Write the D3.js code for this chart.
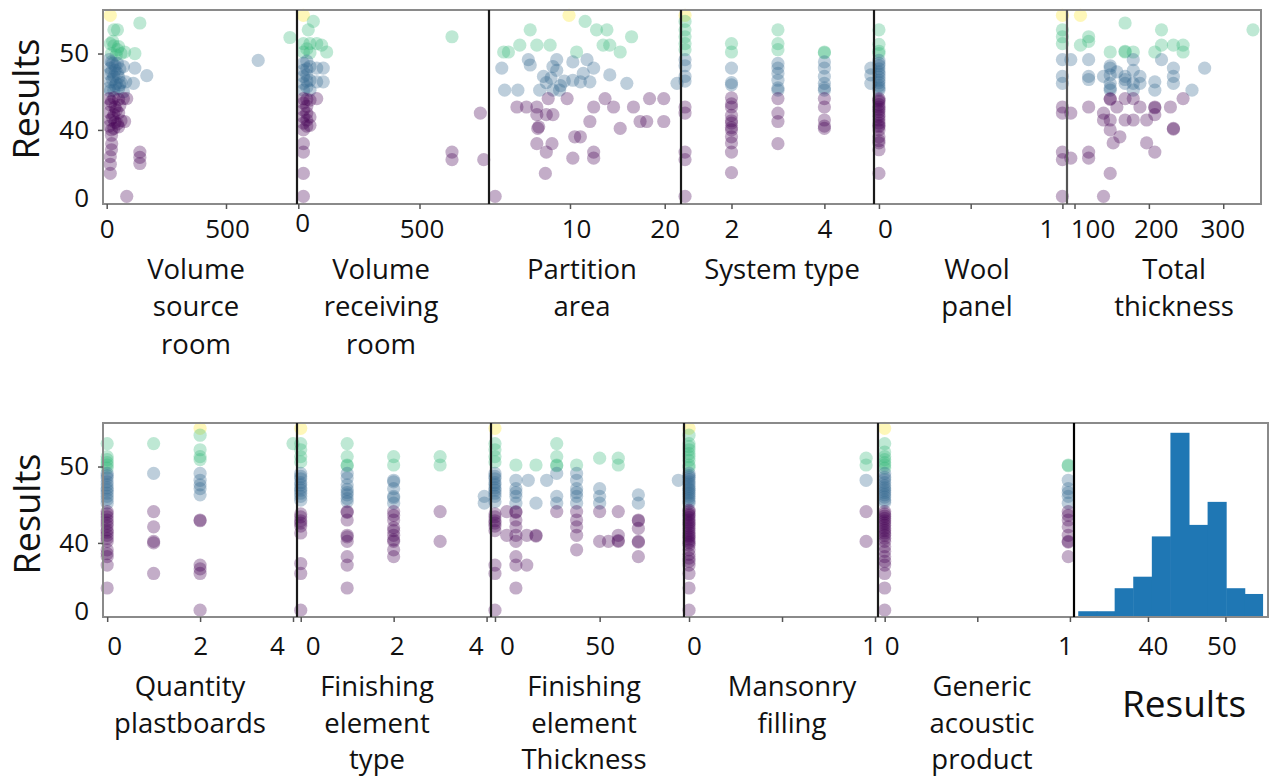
<!DOCTYPE html>
<html>
<head>
<meta charset="utf-8">
<script src="https://cdn.jsdelivr.net/npm/d3@7"></script>
<style>
  body { margin: 0; background: #fff; }
  svg { display: block; }
</style>
</head>
<body>
<div id="chart"></div>
<script>
// Results (dB) against each feature. Scatter panels: [feature, result];
// column panels: [feature, [results...]]
const volumeSource = [
  [15, 55.0], [30, 53.1], [45, 53.1], [139, 54.0], [15, 51.3], [30, 51.0], [45, 50.5], [60, 50.0],
  [75, 50.2], [20, 50.0], [40, 49.8], [118, 50.0], [768, 52.1], [25, 51.6], [50, 50.9],
  [10, 49.2], [25, 48.7], [45, 48.7], [15, 48.1], [35, 47.8], [55, 48.0], [70, 48.3], [10, 47.3],
  [30, 47.0], [50, 46.9], [15, 46.3], [40, 46.1], [60, 46.2], [80, 46.3], [10, 45.5], [30, 45.2],
  [50, 45.4], [70, 45.0], [118, 48.1], [168, 47.1], [112, 46.1], [635, 49.1],
  [20, 48.9], [35, 48.4], [20, 47.6], [45, 47.4], [25, 46.6], [35, 45.8], [15, 45.1], [55, 45.9],
  [10, 44.1], [30, 44.2], [50, 44.0], [70, 44.1], [84, 44.1], [15, 43.3], [35, 43.0], [55, 43.2],
  [10, 42.3], [30, 42.0], [50, 42.2], [15, 41.3], [35, 41.0], [60, 41.2], [75, 41.1], [10, 40.5],
  [30, 40.2], [50, 40.4], [20, 43.7], [40, 42.6], [25, 41.6], [45, 40.8], [20, 40.0],
  [20, 39.3], [21, 38.2], [20, 37.4], [15, 36.5], [15, 35.5], [15, 34.3],
  [139, 37.1], [139, 36.4], [139, 35.6], [84, 31.3]
];
const volumeReceiving = [
  [21, 55.0], [62, 54.2], [41, 53.1], [21, 51.3], [48, 51.3], [76, 51.3], [96, 51.1], [117, 50.2],
  [21, 50.2], [48, 50.1], [634, 52.2], [35, 50.6],
  [21, 48.7], [21, 47.8], [21, 47.0], [21, 46.1], [21, 45.2], [48, 48.3], [48, 46.5], [48, 45.2],
  [76, 48.1], [103, 48.1], [103, 46.3], [76, 46.3], [35, 49.0], [35, 48.0], [35, 47.2], [35, 46.4], [35, 45.6],
  [21, 44.1], [21, 43.5], [21, 42.6], [21, 41.7], [21, 40.9], [48, 43.9], [48, 41.7], [48, 40.6],
  [35, 44.0], [35, 43.1], [35, 42.2], [35, 41.3], [35, 40.5],
  [76, 44.1], [21, 40.0], [21, 38.2], [21, 37.1], [21, 34.3], [21, 31.3], [751, 42.2], [634, 37.1],
  [634, 36.1], [765, 36.1]
];
const partitionArea = [
  [9.9, 55.0], [11.6, 54.2], [5.8, 53.1], [12.8, 53.1], [13.9, 53.1], [16.5, 52.2], [4.7, 51.1],
  [6.5, 51.1], [7.9, 51.1], [13.5, 51.1], [14.2, 51.1], [3.0, 50.2], [3.5, 50.2], [10.7, 50.2], [15.3, 50.2],
  [5.6, 49.2], [8.6, 49.2], [11.8, 49.2], [5.8, 48.5], [10.3, 48.9], [2.8, 48.1], [8.2, 48.3], [12.5, 48.1],
  [8.6, 47.8], [11.4, 47.4], [7.2, 47.0], [14.2, 47.2], [7.5, 46.2], [10.3, 46.5], [12.1, 46.3], [11.1, 46.3],
  [16.0, 46.1], [21.3, 46.1], [3.1, 45.2], [4.5, 45.2], [6.8, 45.2], [8.2, 45.2], [8.9, 45.2],
  [8.0, 46.8], [9.0, 45.8], [9.4, 46.4],
  [7.7, 44.1], [9.7, 44.1], [13.7, 44.1], [18.4, 44.1], [19.9, 44.1], [4.4, 43.0], [5.4, 43.0], [6.5, 43.0],
  [12.5, 43.0], [14.6, 43.0], [16.7, 43.0], [6.5, 42.0], [7.5, 42.0], [8.2, 42.0], [17.4, 41.1], [18.1, 41.1],
  [19.9, 41.1], [12.1, 41.1], [6.7, 40.4], [6.6, 40.2], [15.3, 40.2], [10.5, 39.1], [11.1, 39.1], [6.5, 38.2], [8.1, 38.2],
  [7.5, 37.1], [12.5, 37.1], [10.3, 36.3], [12.5, 36.3], [7.4, 34.3], [2.1, 31.3]
];
const systemType = [
  [1, [55.0, 54.2, 53.1, 52.2, 51.3, 50.5, 49.2, 48.4, 47.0, 46.4, 43.0, 42.2, 37.1, 36.1, 31.3]],
  [2, [51.3, 50.2, 48.1, 46.2, 45.9, 44.2, 43.0, 43.4, 41.9, 40.9, 41.2, 40.3, 40.0, 39.1, 38.3, 37.1, 34.4]],
  [3, [53.1, 51.3, 50.5, 48.7, 48.1, 47.4, 46.5, 45.2, 45.5, 44.1, 42.2, 41.1, 38.2]],
  [4, [50.2, 50.1, 48.9, 48.1, 47.0, 46.1, 45.2, 45.5, 44.1, 43.0, 41.3, 40.2, 40.5]],
  [5, [48.1, 47.2, 46.1]]
];
const woolPanel = [
  [0, [53.1, 51.2, 50.3, 50.0, 49.1, 48.7, 48.4, 48.0, 47.6, 47.3, 46.9, 46.5, 46.2, 45.8, 45.5, 45.2,
       44.1, 43.9, 43.7, 43.3, 43.0, 42.7, 42.4, 42.0, 41.7, 41.3, 40.9, 40.6, 40.4, 40.0,
       39.1, 38.6, 38.3, 37.4, 34.3]],
  [1, [55.0, 53.1, 52.2, 51.3, 49.2, 47.0, 46.1, 43.0, 42.2, 37.1, 36.1, 31.3]]
];
const totalThickness = [
  [108, 55.0], [168, 54.0], [119, 52.2], [108, 51.1], [119, 51.6], [217, 53.1], [340, 53.1], [148, 50.2],
  [168, 50.2], [168, 50.3], [179, 50.2], [208, 50.2], [217, 51.1], [233, 51.1], [246, 51.1], [246, 50.2],
  [95, 49.2], [119, 49.2], [119, 47.0], [119, 46.6], [139, 47.0], [148, 48.1], [148, 46.1], [148, 45.2],
  [148, 47.2], [168, 47.0], [168, 46.1], [179, 49.2], [179, 47.8], [179, 46.1], [179, 45.2], [188, 47.0],
  [188, 46.1], [208, 46.3], [208, 45.2], [217, 49.2], [233, 48.1], [233, 47.0], [233, 46.1], [258, 45.2],
  [275, 48.1], [157, 47.6], [148, 45.5], [168, 46.6], [148, 48.4],
  [148, 44.1], [148, 44.0], [119, 43.0], [139, 42.2], [148, 41.3], [157, 43.0], [168, 44.1], [179, 44.1],
  [179, 41.3], [188, 43.0], [197, 41.3], [208, 43.0], [208, 42.9], [208, 42.0], [229, 43.0], [233, 40.2],
  [233, 40.1], [246, 44.1], [148, 40.0], [161, 39.1], [152, 38.3], [197, 38.3], [208, 37.1], [119, 37.1],
  [119, 36.3], [148, 34.3], [139, 31.3], [95, 42.2], [95, 36.3], [168, 41.3], [139, 41.3]
];
const plasterboards = [
  [0, [53.0, 51.3, 50.9, 50.5, 50.2, 49.8, 49.1, 48.8, 48.5, 48.0, 47.6, 47.2, 46.9, 46.5, 46.1, 45.7, 45.2,
       44.1, 43.8, 43.4, 43.0, 42.6, 42.2, 41.7, 41.4, 41.0, 40.6, 40.2, 39.1, 38.6, 38.2, 37.1, 34.1]],
  [1, [53.0, 49.1, 44.1, 42.1, 40.2, 40.0, 36.0]],
  [2, [55.0, 54.1, 52.2, 51.3, 50.9, 49.1, 48.2, 47.6, 47.1, 46.3, 43.0, 42.9, 37.1, 36.6, 36.0, 31.2]],
  [4, [53.0]]
];
const finishingType = [
  [0, [55.0, 53.0, 52.2, 51.3, 50.6, 49.1, 48.7, 48.4, 47.9, 47.6, 47.2, 46.9, 46.5, 46.1, 45.6,
       43.8, 43.4, 42.9, 42.6, 42.2, 41.3, 37.3, 36.0, 31.2]],
  [1, [53.0, 51.3, 50.2, 50.1, 49.1, 48.5, 47.6, 47.0, 46.6, 46.3, 45.8, 45.4, 44.1, 44.0, 43.0, 41.0, 40.8,
       40.2, 38.2, 37.1, 34.1]],
  [2, [51.3, 50.2, 48.2, 48.0, 47.1, 46.1, 45.9, 45.2, 44.1, 43.6, 43.0, 42.0, 41.6, 41.0, 40.4, 40.2, 39.1, 38.2]],
  [3, [51.3, 50.2, 44.1, 40.2]],
  [3.95, [46.1, 45.2]]
];
const finishingThickness = [
  [0, [55.0, 53.0, 52.2, 51.3, 50.6, 49.1, 48.7, 48.4, 47.9, 47.6, 47.2, 46.9, 46.5, 46.1, 45.4,
       43.8, 43.4, 42.9, 42.6, 42.2, 41.6, 37.1, 36.0, 31.2]],
  [5.6, [44.1, 41.0]],
  [10, [50.2, 48.2, 47.1, 46.6, 46.1, 45.2, 44.1, 44.0, 43.0, 42.1, 41.0, 40.2, 38.2, 37.1, 34.1]],
  [15.2, [41.0, 37.1]],
  [15.9, [48.2]],
  [19.6, [50.2, 45.2, 41.0, 40.9]],
  [24.7, [48.2]],
  [29.5, [53.0, 51.3, 50.2, 50.1, 49.1, 46.1, 45.2, 44.1]],
  [39, [50.2, 49.1, 48.2, 47.1, 46.6, 46.1, 45.2, 44.1, 43.0, 42.1, 41.0, 39.1]],
  [50, [51.1, 47.1, 46.1, 45.2, 44.1, 40.2]],
  [54.2, [40.2]],
  [58.9, [51.1, 50.2, 44.1, 41.0, 40.3, 40.2]],
  [68.5, [46.3, 45.2, 43.0, 42.9, 41.9, 40.2, 40.1, 38.2]],
  [87.6, [48.2]]
];
const masonryFilling = [
  [0, [55.0, 54.1, 53.0, 52.6, 52.2, 51.7, 51.3, 50.8, 50.2, 49.9, 49.1, 48.8, 48.6, 48.3, 48.0, 47.7, 47.4,
       47.1, 46.9, 46.6, 46.4, 46.1, 45.8, 45.5, 45.2, 44.3, 44.1, 43.8, 43.6, 43.3, 43.0, 42.7, 42.5,
       42.2, 41.9, 41.6, 41.3, 41.0, 40.8, 40.5, 40.2, 40.0, 39.7, 39.1, 38.5, 38.0, 37.6, 37.1, 36.0,
       34.1, 31.2]],
  [0.952, [51.1, 50.2, 48.2, 44.1, 40.2]]
];
const genericProduct = [
  [0, [55.0, 53.0, 51.9, 51.3, 50.9, 50.5, 50.2, 49.8, 49.1, 48.6, 48.3, 47.9, 47.5, 47.2, 46.9, 46.6, 46.3,
       46.0, 45.6, 45.3, 44.1, 43.8, 43.5, 43.2, 42.9, 42.6, 42.3, 41.9, 41.6, 41.3, 41.0, 40.6, 40.2,
       39.5, 38.9, 38.2, 37.6, 37.1, 36.0, 34.1, 31.2]],
  [0.991, [50.2, 50.1, 48.2, 47.1, 46.6, 46.1, 45.2, 44.1, 43.6, 43.0, 42.1, 41.0, 40.2, 40.1, 38.2]]
];

// histogram of Results
const histEdges = [31.0, 33.4, 35.7, 38.1, 40.5, 42.9, 45.3, 47.7, 50.1, 52.5, 54.8];
const histCounts = [1, 1, 5, 7, 14, 32, 16, 20, 5, 4];

// colour classes (viridis, 4 levels)
const classBreaks = [44.6, 49.6, 54.6];

// y axis of the scatter rows
const resultDomain = [30.3, 55.7];
const yTicks = [31, 40, 50];
const yTickText = ["0", "40", "50"];

const W = 1270, H = 776;
const rows = [
  { top: 10, bottom: 204, titleY: 267.5, lineH: 37.5, tickY: 229, labelX: 25, labelY: 99 },
  { top: 423, bottom: 617, titleY: 685, lineH: 36.5, tickY: 646, labelX: 26, labelY: 514 }
];

const panels = [
  { row: 0, x0: 103, x1: 297, domain: [-15.5, 797.6], ticks: [0, 500], shift: [[0, 0], [1, 0]],
    title: ["Volume", "source", "room"], titleX: 196, data: volumeSource },
  { row: 0, x0: 297, x1: 489, domain: [-5.4, 786.7], ticks: [0, 500], shift: [[4, -6], [2, 0]],
    title: ["Volume", "receiving", "room"], titleX: 381, data: volumeReceiving },
  { row: 0, x0: 489, x1: 681, domain: [1.45, 21.72], ticks: [10, 20], shift: [[6, 0], [0, 0]],
    title: ["Partition", "area"], titleX: 582, data: partitionArea },
  { row: 0, x0: 681, x1: 874, domain: [0.913, 5.068], ticks: [2, 4], shift: [[0, 0], [0, 0]],
    title: ["System type"], titleX: 782, data: systemType },
  { row: 0, x0: 874, x1: 1067, domain: [-0.027, 1.025], ticks: [0, 0.5, 1], hideLabel: [0.5], shift: [[6, 0], [0, 0], [-16, 0]],
    title: ["Wool", "panel"], titleX: 977, data: woolPanel },
  { row: 0, x0: 1067, x1: 1261, domain: [89.9, 350.8], ticks: [100, 200, 300], shift: [[18, 0], [7, 0], [-1, 0]],
    title: ["Total", "thickness"], titleX: 1174, data: totalThickness, edge: "#555" },
  { row: 1, x0: 103, x1: 297, domain: [-0.09, 4.086], ticks: [0, 2, 4], shift: [[7, 0], [0, 0], [-16, 0]],
    title: ["Quantity", "plastboards"], titleX: 190, data: plasterboards },
  { row: 1, x0: 297, x1: 491, domain: [-0.08, 4.095], ticks: [0, 2, 4], shift: [[12, 0], [3, 0], [-11, 0]],
    title: ["Finishing", "element", "type"], titleX: 377, data: finishingType },
  { row: 1, x0: 491, x1: 684, domain: [-1.9, 90.3], ticks: [0, 50], shift: [[12, 0], [0, 0]],
    title: ["Finishing", "element", "Thickness"], titleX: 584, data: finishingThickness },
  { row: 1, x0: 684, x1: 878, domain: [-0.027, 1.016], ticks: [0, 0.5, 1], hideLabel: [0.5], shift: [[5, 0], [0, 0], [-6, 0]],
    title: ["Mansonry", "filling"], titleX: 792, data: masonryFilling },
  { row: 1, x0: 878, x1: 1074, domain: [-0.036, 1.022], ticks: [0, 0.5, 1], hideLabel: [0.5], shift: [[7, 0], [0, 0], [-5, 0]],
    title: ["Generic", "acoustic", "product"], titleX: 982, data: genericProduct },
  { row: 1, x0: 1074, x1: 1268, domain: [30.45, 55.5], ticks: [40, 50], shift: [[5, 0], [-4, 0]],
    title: ["Results"], titleX: 1184, hist: true, edge: "#000" }
];

const TICK_FONT = "'Open Sans', sans-serif";

const colorOf = v => {
  const cls = d3.bisectRight(classBreaks, v);
  return d3.interpolateViridis(cls / 3);
};

const toPoints = data => {
  const out = [];
  data.forEach(d => {
    if (Array.isArray(d[1])) d[1].forEach(v => out.push([d[0], v]));
    else out.push(d);
  });
  return out;
};

const svg = d3.select("#chart").append("svg")
  .attr("width", W).attr("height", H)
  .style("background", "#fff");

panels.forEach(p => {
  const r = rows[p.row];
  const x = d3.scaleLinear().domain(p.domain).range([p.x0, p.x1]);
  const y = d3.scaleLinear().domain(resultDomain).range([r.bottom, r.top]);
  const g = svg.append("g");

  if (p.hist) {
    const yH = d3.scaleLinear().domain([0, 33.7]).range([r.bottom, r.top]);
    g.selectAll("rect.bar")
      .data(histCounts)
      .join("rect")
        .attr("class", "bar")
        .attr("x", (d, k) => x(histEdges[k]))
        .attr("width", (d, k) => x(histEdges[k + 1]) - x(histEdges[k]) + 0.5)
        .attr("y", d => yH(d))
        .attr("height", d => r.bottom - yH(d))
        .attr("fill", "#1f77b4");
  } else {
    g.selectAll("circle")
      .data(toPoints(p.data))
      .join("circle")
        .attr("cx", d => x(d[0]))
        .attr("cy", d => y(d[1]))
        .attr("r", 6.6)
        .attr("fill", d => colorOf(d[1]))
        .attr("fill-opacity", 0.32);
  }

  // frame
  g.append("rect")
    .attr("x", p.x0).attr("y", r.top)
    .attr("width", p.x1 - p.x0).attr("height", r.bottom - r.top)
    .attr("fill", "none")
    .attr("stroke", "#8a8a8a")
    .attr("stroke-width", 2);

  // x axis
  const ax = g.append("g")
    .attr("transform", `translate(0,${r.bottom})`)
    .call(d3.axisBottom(x).tickValues(p.ticks).tickSize(5)
      .tickFormat(d => (p.hideLabel && p.hideLabel.includes(d)) ? "" : d3.format("~g")(d)));
  ax.select(".domain").remove();
  ax.selectAll(".tick line").attr("stroke", "#555").attr("stroke-width", 1.5);
  ax.selectAll(".tick text")
    .attr("y", r.tickY - r.bottom)
    .attr("dy", "0.36em")
    .attr("transform", (d, k) => `translate(${p.shift[k][0]},${p.shift[k][1]})`)
    .attr("fill", "#111")
    .style("font-family", TICK_FONT)
    .style("font-size", "26px");

  // feature name under the axis
  const big = p.hist;
  g.append("text")
    .attr("x", p.titleX)
    .attr("y", big ? 702 : r.titleY)
    .attr("text-anchor", "middle")
    .attr("dominant-baseline", "central")
    .attr("fill", "#111")
    .style("font-family", "'Open Sans', sans-serif")
    .style("font-size", big ? "37px" : "27.5px")
    .selectAll("tspan")
    .data(p.title)
    .join("tspan")
      .attr("x", p.titleX)
      .attr("dy", (d, k) => k === 0 ? 0 : r.lineH)
      .text(d => d);

  // y axis on first panel of each row
  if (p.x0 === 103) {
    const ay = g.append("g")
      .attr("transform", `translate(${p.x0},0)`)
      .call(d3.axisLeft(y).tickValues(yTicks).tickSize(5).tickPadding(9)
        .tickFormat((d, k) => yTickText[k]));
    ay.select(".domain").remove();
    ay.selectAll(".tick line")
      .attr("stroke", "#555").attr("stroke-width", 1.5)
      .attr("opacity", (d, k) => k === 0 ? 0 : 1);
    ay.selectAll(".tick text")
      .attr("fill", "#111")
      .style("font-family", TICK_FONT)
      .style("font-size", "26px");

    g.append("text")
      .attr("transform", `translate(${r.labelX},${r.labelY}) rotate(-90)`)
      .attr("text-anchor", "middle")
      .attr("dominant-baseline", "central")
      .attr("fill", "#111")
      .style("font-family", "'Open Sans', sans-serif")
      .style("font-size", "36px")
      .text("Results");
  }
});

// dark joins between panels
panels.forEach(p => {
  if (p.x0 === 103) return;
  const r = rows[p.row];
  svg.append("line")
    .attr("x1", p.x0).attr("x2", p.x0)
    .attr("y1", r.top).attr("y2", r.bottom)
    .attr("stroke", p.edge || "#1a1a1a")
    .attr("stroke-width", 2.2);
});
</script>
</body>
</html>
